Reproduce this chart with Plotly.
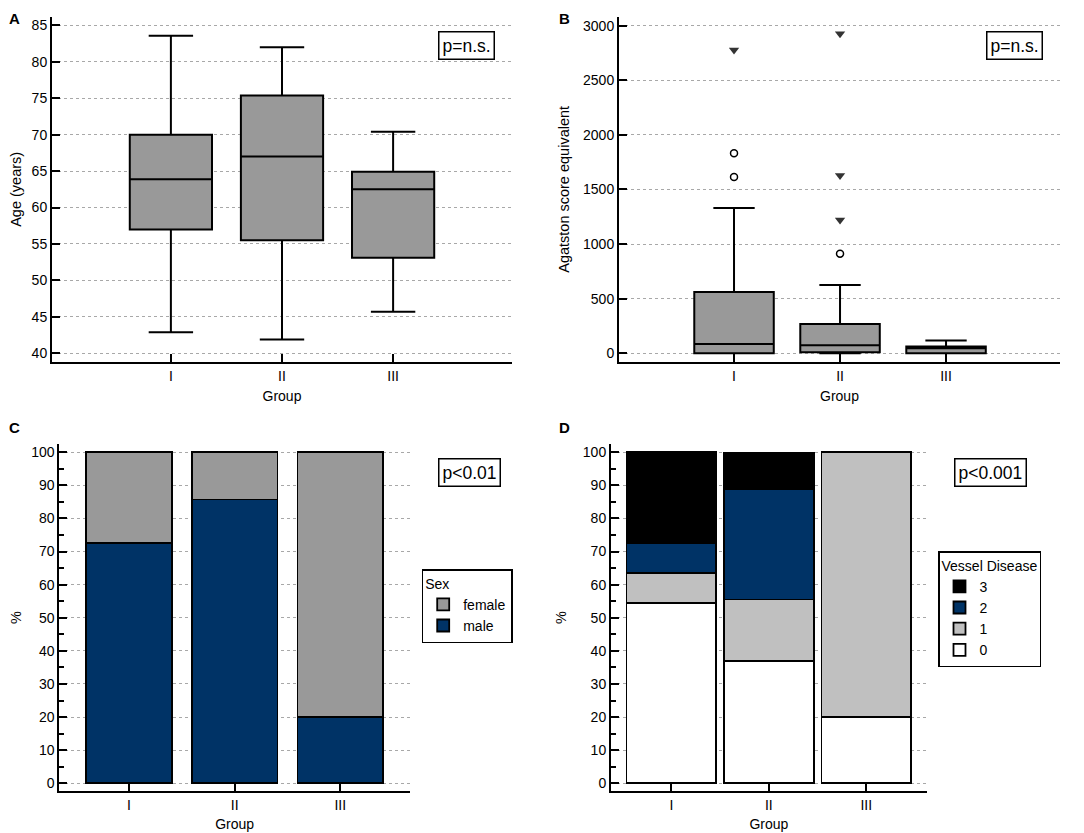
import plotly.graph_objects as go

groups = ["I", "II", "III"]
group_pos = [1, 2, 3]

# Panel A - age (years), box summary per group
age_low = [42.9, 41.9, 45.7]
age_q1 = [57.0, 55.5, 53.1]
age_median = [63.9, 67.0, 62.5]
age_q3 = [70.0, 75.4, 64.9]
age_high = [83.6, 82.0, 70.4]

# Panel B - Agatston score equivalent
ag_low = [0, 0, 0]
ag_q1 = [0, 10, 0]
ag_median = [85, 73, 45]
ag_q3 = [561, 268, 61]
ag_high = [1331, 625, 116]
ag_outlier_group = ["I", "I", "II"]
ag_outlier_value = [1831, 1614, 912]
ag_far_group = ["I", "II", "II", "II"]
ag_far_value = [2777, 2927, 1627, 1221]

# Panel C - sex (%)
sex_male = [72.7, 85.7, 20.0]
sex_female = [27.3, 14.3, 80.0]

# Panel D - vessel disease (%)
vd_0 = [54.5, 37.0, 20.0]
vd_1 = [9.1, 18.5, 80.0]
vd_2 = [9.1, 33.3, 0.0]
vd_3 = [27.3, 11.1, 0.0]

W, H = 1084, 833
OFF = 8  # page margin around the plot div
FONT = "Liberation Sans, Arial, sans-serif"
NAVY = "#003366"


def px_x(p):
    return (p - OFF) / W


def px_y(p):
    return 1 - (p - OFF) / H


fig = go.Figure()

# A
fig.add_trace(go.Box(x=group_pos, q1=age_q1, median=age_median, q3=age_q3,
                     lowerfence=age_low, upperfence=age_high,
                     width=0.74, whiskerwidth=0.54, fillcolor="#999999",
                     line=dict(color="black", width=2),
                     xaxis="x", yaxis="y", showlegend=False, boxpoints=False))

# B
fig.add_trace(go.Box(x=group_pos, q1=ag_q1, median=ag_median, q3=ag_q3,
                     lowerfence=ag_low, upperfence=ag_high,
                     width=0.75, whiskerwidth=0.52, fillcolor="#999999",
                     line=dict(color="black", width=2),
                     xaxis="x2", yaxis="y2", showlegend=False, boxpoints=False))
fig.add_trace(go.Scatter(x=[group_pos[groups.index(g)] for g in ag_outlier_group],
                         y=ag_outlier_value, mode="markers",
                         marker=dict(symbol="circle", size=7, color="white",
                                     line=dict(color="black", width=1.5)),
                         xaxis="x2", yaxis="y2", showlegend=False))
fig.add_trace(go.Scatter(x=[group_pos[groups.index(g)] for g in ag_far_group],
                         y=ag_far_value, mode="markers",
                         marker=dict(symbol="triangle-down", size=9, color="#333333"),
                         xaxis="x2", yaxis="y2", showlegend=False))

# C
bar_line = dict(color="black", width=1.8)
fig.add_trace(go.Bar(x=group_pos, y=sex_male, name="male", width=0.81,
                     marker=dict(color=NAVY, line=bar_line),
                     xaxis="x3", yaxis="y3", legend="legend"))
fig.add_trace(go.Bar(x=group_pos, y=sex_female, name="female", width=0.81,
                     marker=dict(color="#999999", line=bar_line),
                     xaxis="x3", yaxis="y3", legend="legend"))

# D
for vals, name, col in [(vd_0, "0", "white"), (vd_1, "1", "#c0c0c0"),
                        (vd_2, "2", NAVY), (vd_3, "3", "black")]:
    fig.add_trace(go.Bar(x=group_pos, y=vals, name=name, width=0.92,
                         marker=dict(color=col, line=bar_line),
                         xaxis="x4", yaxis="y4", legend="legend2"))

tick_font = dict(family=FONT, size=14, color="black")
xtitle_font = dict(family=FONT, size=14, color="black")
ytitle_font = dict(family=FONT, size=14.5, color="black")
leg_font = dict(family=FONT, size=14, color="black")
grid = dict(showgrid=True, gridcolor="#a8a8a8", griddash="dot", gridwidth=1, zeroline=False)


def xax(domain, rng, anchor):
    return dict(domain=domain, range=rng, anchor=anchor, tickvals=group_pos, ticktext=groups,
                ticks="inside", ticklen=8, tickwidth=1.5, tickcolor="black",
                showline=True, linecolor="black", linewidth=2, showgrid=False, zeroline=False,
                tickfont=tick_font, title=dict(text="Group", font=xtitle_font, standoff=8))


def yax(domain, rng, anchor, dtick, title, standoff, minor=None):
    d = dict(domain=domain, range=rng, anchor=anchor, dtick=dtick,
             ticks="inside", ticklen=8, tickwidth=1.5, tickcolor="black",
             showline=True, linecolor="black", linewidth=2, tickfont=tick_font,
             title=dict(text=title, font=ytitle_font, standoff=standoff), **grid)
    if minor:
        d["minor"] = minor
    return d


top_dom = [px_y(362), px_y(16.7)]
bot_dom = [px_y(790.7), px_y(444.3)]
minor = dict(dtick=5, ticks="inside", ticklen=5, tickcolor="black", showgrid=False)

fig.update_layout(
    width=W, height=H,
    margin=dict(l=0, r=0, t=0, b=0),
    plot_bgcolor="white", paper_bgcolor="white",
    font=dict(family=FONT, size=14, color="black"),
    barmode="stack",
    xaxis=xax([px_x(52), px_x(512)], [-0.07, 4.07], "y"),
    yaxis=yax(top_dom, [38.8, 86.2], "x", 5, "Age (years)", 10),
    xaxis2=xax([px_x(619), px_x(1060)], [-0.085, 4.075], "y2"),
    yaxis2=yax(top_dom, [-80, 3082], "x2", 500, "Agatston score equivalent", 10),
    xaxis3=xax([px_x(59.3), px_x(410)], [0.34, 3.66], "y3"),
    yaxis3=yax(bot_dom, [-2.24, 102.4], "x3", 10, "%", 13, minor),
    xaxis4=xax([px_x(611), px_x(926.7)], [0.38, 3.62], "y4"),
    yaxis4=yax(bot_dom, [-2.24, 102.4], "x4", 10, "%", 13, minor),
    legend=dict(x=px_x(421.7), y=px_y(569), xanchor="left", yanchor="top",
                traceorder="reversed", bordercolor="black", borderwidth=1.5,
                bgcolor="white", title=dict(text="Sex", font=leg_font),
                font=leg_font, itemwidth=30, tracegroupgap=0),
    legend2=dict(x=px_x(938), y=px_y(551), xanchor="left", yanchor="top",
                 traceorder="reversed", bordercolor="black", borderwidth=1.5,
                 bgcolor="white", title=dict(text="Vessel Disease", font=leg_font),
                 font=leg_font, itemwidth=30, tracegroupgap=0),
)

# panel letters
for letter, lx, ly in [("A", 7, 8), ("B", 557, 8), ("C", 7, 417), ("D", 557, 417)]:
    fig.add_annotation(text="<b>%s</b>" % letter, x=px_x(lx), y=px_y(ly),
                       xref="paper", yref="paper", xanchor="left", yanchor="top",
                       showarrow=False, font=dict(family=FONT, size=15, color="black"))

# p-value boxes
for txt, cx, cy in [("p=n.s.", 466, 45.5), ("p=n.s.", 1014, 45.5),
                    ("p<0.01", 469, 472.5), ("p<0.001", 990, 472.5)]:
    fig.add_annotation(text=txt, x=px_x(cx), y=px_y(cy), xref="paper", yref="paper",
                       xanchor="center", yanchor="middle", showarrow=False,
                       bordercolor="black", borderwidth=1.5, borderpad=3, bgcolor="white",
                       font=dict(family=FONT, size=17.5, color="black"))

fig.write_html("out.html")
